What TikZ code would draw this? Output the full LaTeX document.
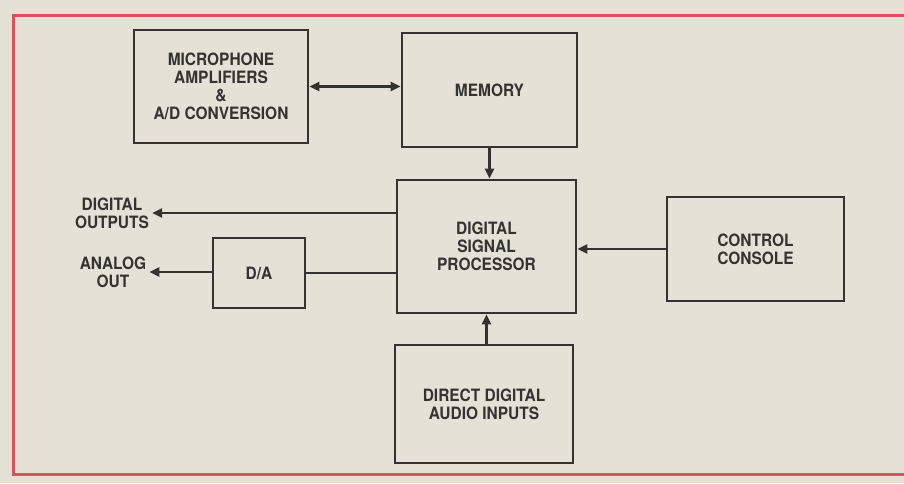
\documentclass[tikz,border=0pt]{standalone}
\usepackage{fontspec}
\setmainfont[FakeStretch=0.91]{TeX Gyre Heros}
\usetikzlibrary{arrows.meta,calc}
\definecolor{paper}{HTML}{E6E1D6}
\definecolor{ink}{HTML}{35332F}
\definecolor{redline}{HTML}{D9505E}
\tikzset{
  blk/.style={draw=ink, line width=2.7pt, align=center, inner sep=0pt, text=ink,
              font=\fontsize{17}{17.9}\selectfont\bfseries},
  lbl/.style={align=center, inner sep=3pt, text=ink, font=\fontsize{17}{17.9}\selectfont\bfseries},
  conn/.style={draw=ink, line width=2.7pt},
  arr/.style={conn, -{Triangle[length=10pt,width=9pt]}},
  darr/.style={conn, {Triangle[length=10pt,width=9pt]}-{Triangle[length=10pt,width=9pt]}}
}
\begin{document}
\begin{tikzpicture}[x=1pt,y=-1pt]
\fill[paper] (0,0) rectangle (904,483);
\useasboundingbox (0,0) rectangle (904,483);
\draw[redline, line width=3pt] (910,15) -- (13,15) -- (13,474) -- (910,474);

\node[blk, minimum width=174pt, minimum height=113pt] (mic) at (221,86.5)
  {MICROPHONE\\AMPLIFIERS\\\&\\A/D CONVERSION};
\node[blk, minimum width=175pt, minimum height=114pt] (mem) at (489.5,90) {MEMORY};
\node[blk, minimum width=179pt, minimum height=133pt] (dsp) at (486.5,246.5)
  {DIGITAL\\SIGNAL\\PROCESSOR};
\node[blk, minimum width=92pt, minimum height=70pt] (da) at (259,273) {D/A};
\node[blk, minimum width=177pt, minimum height=104pt] (ctl) at (755.5,249)
  {CONTROL\\CONSOLE};
\node[blk, minimum width=178pt, minimum height=118pt] (dir) at (484,404)
  {DIRECT DIGITAL\\AUDIO INPUTS};

\node[lbl] (dout) at (112,213) {DIGITAL\\OUTPUTS};
\node[lbl] (aout) at (113,272) {ANALOG\\OUT};

\draw[darr] (mic.east) -- (mic.east -| mem.west);
\draw[arr] (mem.south) -- (mem.south |- dsp.north);
\draw[arr] (dsp.west |- dout.east) -- (dout.east);
\draw[conn] (dsp.west |- da.east) -- (da.east);
\draw[arr] (da.west |- aout.east) -- (aout.east);
\draw[arr] (ctl.west) -- (ctl.west -| dsp.east);
\draw[arr] (dir.north -| dsp.south) -- (dsp.south);
\end{tikzpicture}
\end{document}
